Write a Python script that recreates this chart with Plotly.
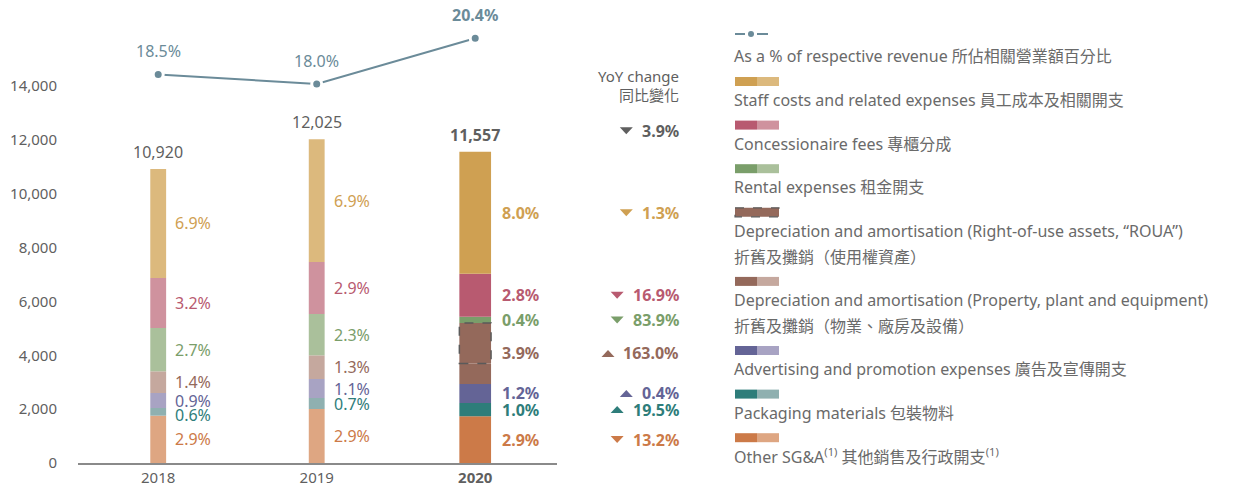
import plotly.graph_objects as go

# ---- data (HK$ million) ----
years = ["2018", "2019", "2020"]
totals = [10920, 12025, 11557]
pct_of_revenue = [18.5, 18.0, 20.4]

other_sga = [1757, 2005, 1740]
packaging = [285, 409, 489]
advertising = [558, 705, 708]
dna_ppe = [805, 879, 754]
dna_roua = [0, 0, 1511]
rental = [1608, 1535, 225]
concession = [1857, 1931, 1605]
staff = [4050, 4561, 4525]

# as % of revenue, per segment
other_pct = [2.9, 2.9, 2.9]
packaging_pct = [0.6, 0.7, 1.0]
advertising_pct = [0.9, 1.1, 1.2]
dna_pct = [1.4, 1.3, 3.9]
rental_pct = [2.7, 2.3, 0.4]
concession_pct = [3.2, 2.9, 2.8]
staff_pct = [6.9, 6.9, 8.0]

# YoY change 2020 vs 2019
yoy_total = -3.9
yoy_other = -13.2
yoy_packaging = 19.5
yoy_advertising = 0.4
yoy_dna = 163.0
yoy_rental = -83.9
yoy_concession = -16.9
yoy_staff = -1.3

legend_line_label = "As a % of respective revenue 所佔相關營業額百分比"
legend_labels = [
    "Staff costs and related expenses 員工成本及相關開支",
    "Concessionaire fees 專櫃分成",
    "Rental expenses 租金開支",
    "Depreciation and amortisation (Right-of-use assets, \u201cROUA\u201d)<br>折舊及攤銷（使用權資產）",
    "Depreciation and amortisation (Property, plant and equipment)<br>折舊及攤銷（物業、廠房及設備）",
    "Advertising and promotion expenses 廣告及宣傳開支",
    "Packaging materials 包裝物料",
    "Other SG&A<sup>(1)</sup> 其他銷售及行政開支<sup>(1)</sup>",
]

# ---- styling ----
FONT = "Noto Sans, Noto Sans CJK TC, sans-serif"
TEXT_GREY = "#5f5f5f"
LEGEND_GREY = "#6a6a6a"
LINE_COL = "#6b8b99"
colours = {  # (2020 dark, 2018/19 light)
    "staff": ("#cfa052", "#dcb97d"),
    "concession": ("#b85a70", "#cf929e"),
    "rental": ("#7a9e6a", "#aac09b"),
    "dna": ("#94695b", "#c5a89e"),
    "advertising": ("#646496", "#a8a3c3"),
    "packaging": ("#2e7d7a", "#8fb0b0"),
    "other": ("#cc7a48", "#dea682"),
}
widths = [0.1, 0.1, 0.2]
x_pos = [0, 1, 2]
PX_PER_X = 158.5
LABEL_SIZE = 16

W, H = 1256, 488
ML, MR, MT, MB = 78, 0, 10, 25
PLOT_W = W - ML - MR
PLOT_H = H - MT - MB
Y_PER_PX = 1 / 0.026929
MIN_GAP = 14 * Y_PER_PX
YOY_RIGHT = 681


def px(x):
    return (x - ML) / PLOT_W


def py(y):
    return (H - MB - y) / PLOT_H


def bold_width(s):
    # rough width of bold 16px digits text
    return sum(9.15 if c.isdigit() else 4.6 if c == "." else 13.8 for c in s)


def yoy_marks(v, y, col, yshift=0):
    """number annotation plus a flat triangle shape to its left"""
    txt = f"{abs(v):.1f}%"
    ann = dict(x=px(YOY_RIGHT), y=y, xref="paper", yref="y", showarrow=False,
               xanchor="right", yanchor="middle", yshift=yshift, text=f"<b>{txt}</b>",
               font=dict(size=LABEL_SIZE, color=col, family=FONT))
    cx = YOY_RIGHT - bold_width(txt) - 18
    if v > 0:
        path = f"M -6.5,{yshift - 3.5} L 6.5,{yshift - 3.5} L 0,{yshift + 3.5} Z"
    else:
        path = f"M -6.5,{yshift + 3.5} L 6.5,{yshift + 3.5} L 0,{yshift - 3.5} Z"
    shp = dict(type="path", xref="paper", yref="y", xsizemode="pixel", ysizemode="pixel",
               xanchor=px(cx), yanchor=y, path=path, fillcolor=col, line=dict(width=0))
    return ann, shp


segments = [
    ("other", other_sga),
    ("packaging", packaging),
    ("advertising", advertising),
    ("dna", dna_ppe),
    ("roua", dna_roua),
    ("rental", rental),
    ("concession", concession),
    ("staff", staff),
]
# labelled blocks (D&A label covers PPE + ROUA together)
label_blocks = [
    ("other", other_pct, yoy_other, ["other"]),
    ("packaging", packaging_pct, yoy_packaging, ["packaging"]),
    ("advertising", advertising_pct, yoy_advertising, ["advertising"]),
    ("dna", dna_pct, yoy_dna, ["dna", "roua"]),
    ("rental", rental_pct, yoy_rental, ["rental"]),
    ("concession", concession_pct, yoy_concession, ["concession"]),
    ("staff", staff_pct, yoy_staff, ["staff"]),
]

fig = go.Figure()
annotations = []
shapes = []

base = [0, 0, 0]
seg_base = {}
for key, vals in segments:
    ckey = "dna" if key == "roua" else key
    dark, light = colours[ckey]
    fig.add_trace(go.Bar(
        x=x_pos, y=vals, width=widths, base=base,
        marker=dict(color=[light, light, dark], line_width=0),
        showlegend=False, hoverinfo="skip",
    ))
    seg_base[key] = list(base)
    if key == "roua":
        # dashed outline round the ROUA part of the 2020 bar
        for i in range(3):
            if vals[i] > 0:
                shapes.append(dict(type="rect", xref="x", yref="y",
                                   x0=x_pos[i] - widths[i] / 2, x1=x_pos[i] + widths[i] / 2,
                                   y0=base[i], y1=base[i] + vals[i],
                                   line=dict(color="#5a5a5a", width=1.5, dash="dash")))
    base = [b + v for b, v in zip(base, vals)]

seg_vals = dict(segments)
for i in range(3):
    mids = []
    for key, pcts, yoy, parts in label_blocks:
        lo = seg_base[parts[0]][i]
        hi = seg_base[parts[-1]][i] + seg_vals[parts[-1]][i]
        mids.append((lo + hi) / 2)
    # keep neighbouring labels from overlapping (push lower one down)
    for k in range(len(mids) - 2, -1, -1):
        mids[k] = min(mids[k], mids[k + 1] - MIN_GAP)
    for (key, pcts, yoy, parts), mid in zip(label_blocks, mids):
        col = colours[key][0]
        annotations.append(dict(
            x=x_pos[i], y=mid, xref="x", yref="y", showarrow=False,
            xanchor="left", yanchor="middle",
            xshift=widths[i] * PX_PER_X / 2 + (9 if i == 2 else 7),
            text=(f"<b>{pcts[i]:.1f}%</b>" if i == 2 else f"{pcts[i]:.1f}%"),
            font=dict(size=LABEL_SIZE, color=col, family=FONT)))
        if i == 2:
            ann, shp = yoy_marks(yoy, mid, col)
            annotations.append(ann)
            shapes.append(shp)

# revenue-share line
fig.add_trace(go.Scatter(
    x=x_pos, y=pct_of_revenue, yaxis="y2", mode="lines+markers",
    line=dict(color=LINE_COL, width=2),
    marker=dict(size=10, color=LINE_COL, line=dict(color="white", width=3)),
    showlegend=False, hoverinfo="skip",
))
for i, p in enumerate(pct_of_revenue):
    annotations.append(dict(
        x=x_pos[i], y=p, xref="x", yref="y2", showarrow=False, yshift=23,
        text=(f"<b>{p:.1f}%</b>" if i == 2 else f"{p:.1f}%"),
        font=dict(size=LABEL_SIZE, color=LINE_COL, family=FONT)))

# totals above bars
for i, t in enumerate(totals):
    annotations.append(dict(
        x=x_pos[i], y=t, xref="x", yref="y", showarrow=False, yshift=17,
        text=(f"<b>{t:,}</b>" if i == 2 else f"{t:,}"),
        font=dict(size=LABEL_SIZE, color=TEXT_GREY, family=FONT)))

# YoY column header and total change
for txt, yy in [("YoY change", 76), ("同比變化", 95)]:
    annotations.append(dict(
        x=px(YOY_RIGHT), y=py(yy), xref="paper", yref="paper", showarrow=False,
        xanchor="right", yanchor="middle", text=txt,
        font=dict(size=15, color=TEXT_GREY, family=FONT)))
ann, shp = yoy_marks(yoy_total, totals[2], TEXT_GREY, yshift=21)
annotations.append(ann)
shapes.append(shp)

# ---- custom legend ----
LX0, LXM, LX1 = 735, 757, 779
TX = 732
shapes += [
    dict(type="line", xref="paper", yref="paper", x0=px(735), x1=px(745), y0=py(34), y1=py(34),
         line=dict(color=LINE_COL, width=2)),
    dict(type="line", xref="paper", yref="paper", x0=px(757), x1=px(768), y0=py(34), y1=py(34),
         line=dict(color=LINE_COL, width=2)),
    dict(type="circle", xref="paper", yref="paper", x0=px(748), x1=px(754), y0=py(31), y1=py(37),
         fillcolor=LINE_COL, line=dict(width=0)),
]
annotations.append(dict(
    x=px(TX), y=py(56), xref="paper", yref="paper", showarrow=False,
    xanchor="left", yanchor="middle", text=legend_line_label,
    font=dict(size=16, color=LEGEND_GREY, family=FONT)))

legend_keys = ["staff", "concession", "rental", "roua", "dna", "advertising", "packaging", "other"]
top = 77
for key, label in zip(legend_keys, legend_labels):
    if key == "roua":
        shapes.append(dict(type="rect", xref="paper", yref="paper",
                           x0=px(LX0), x1=px(LX1), y0=py(top), y1=py(top + 9),
                           fillcolor=colours["dna"][0],
                           line=dict(color="#5a5a5a", width=1.2, dash="dash")))
    else:
        dark, light = colours[key]
        shapes.append(dict(type="rect", xref="paper", yref="paper", x0=px(LX0), x1=px(LXM),
                           y0=py(top), y1=py(top + 9), fillcolor=dark, line=dict(width=0)))
        shapes.append(dict(type="rect", xref="paper", yref="paper", x0=px(LXM), x1=px(LX1),
                           y0=py(top), y1=py(top + 9), fillcolor=light, line=dict(width=0)))
    text_y = top + 23.2
    for j, line in enumerate(label.split("<br>")):
        annotations.append(dict(
            x=px(TX), y=py(text_y + j * 25.5), xref="paper", yref="paper", showarrow=False,
            xanchor="left", yanchor="middle", text=line,
            font=dict(size=16, color=LEGEND_GREY, family=FONT)))
    top = text_y + j * 25.5 + 20.4

fig.update_layout(
    width=W, height=H,
    margin=dict(l=ML, r=MR, t=MT, b=MB),
    barmode="overlay",
    plot_bgcolor="white", paper_bgcolor="white",
    font=dict(family=FONT, color=TEXT_GREY, size=16),
    xaxis=dict(range=[-0.506, 2.516], domain=[0, px(557)],
               tickvals=x_pos, ticktext=["2018", "2019", "<b>2020</b>"],
               showgrid=False, zeroline=False, showline=True, linecolor="#8a8a8a",
               linewidth=1.5, ticks="", tickfont=dict(size=15, color=TEXT_GREY),
               automargin=False),
    yaxis=dict(range=[0, PLOT_H * Y_PER_PX], tickvals=list(range(0, 14001, 2000)),
               tickformat=",", showgrid=False, zeroline=False, showline=False,
               ticks="", ticklabelstandoff=20, tickfont=dict(size=15, color=TEXT_GREY),
               automargin=False),
    yaxis2=dict(overlaying="y", range=[-1.95, 21.89], visible=False),
    annotations=annotations,
    shapes=shapes,
)

fig.write_html("out.html", config={"displayModeBar": False},
               post_script="document.body.style.margin='0';")
